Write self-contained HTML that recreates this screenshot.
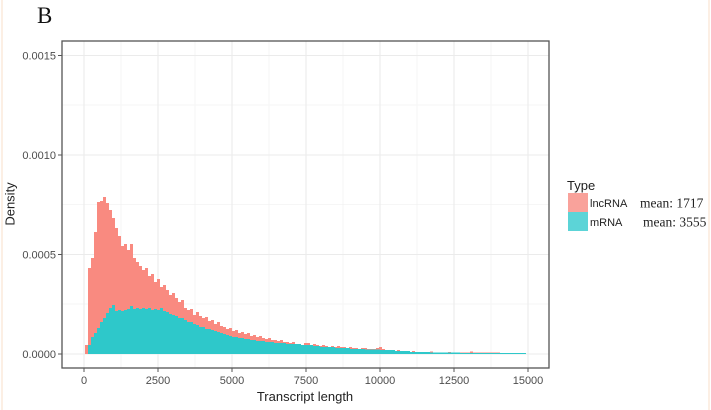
<!DOCTYPE html>
<html><head><meta charset="utf-8"><style>
html,body{margin:0;padding:0;background:#fff;}
svg{display:block;}
</style></head><body>
<svg width="711" height="410" viewBox="0 0 711 410" xmlns="http://www.w3.org/2000/svg">
<rect x="0" y="0" width="711" height="410" fill="#fff"/>
<line x1="2" y1="0" x2="2" y2="410" stroke="#fbe4d3" stroke-width="1.2"/>
<line x1="709" y1="0" x2="709" y2="410" stroke="#fbe4d3" stroke-width="1.2"/>
<text x="37" y="23" font-family="Liberation Serif, serif" font-size="23" fill="#111">B</text>

<!-- minor grid -->
<g stroke="#f3f3f3" stroke-width="0.7">
<line x1="62" y1="304" x2="549" y2="304"/>
<line x1="62" y1="204.5" x2="549" y2="204.5"/>
<line x1="62" y1="105" x2="549" y2="105"/>
<line x1="121" y1="41" x2="121" y2="368"/>
<line x1="195" y1="41" x2="195" y2="368"/>
<line x1="269" y1="41" x2="269" y2="368"/>
<line x1="343" y1="41" x2="343" y2="368"/>
<line x1="417" y1="41" x2="417" y2="368"/>
<line x1="491" y1="41" x2="491" y2="368"/>
</g>
<!-- major grid -->
<g stroke="#ebebeb" stroke-width="1.1">
<line x1="62" y1="354" x2="549" y2="354"/>
<line x1="62" y1="254.5" x2="549" y2="254.5"/>
<line x1="62" y1="155" x2="549" y2="155"/>
<line x1="62" y1="55.5" x2="549" y2="55.5"/>
<line x1="84" y1="41" x2="84" y2="368"/>
<line x1="158" y1="41" x2="158" y2="368"/>
<line x1="232" y1="41" x2="232" y2="368"/>
<line x1="306" y1="41" x2="306" y2="368"/>
<line x1="380" y1="41" x2="380" y2="368"/>
<line x1="454" y1="41" x2="454" y2="368"/>
<line x1="528" y1="41" x2="528" y2="368"/>
</g>

<!-- lncRNA -->
<path fill="#f98a80" d="M85,354 V345 H88 V268 H91 V258 H94 V232 H97 V202 H100 V201 H103 V197 H106 V203 H109 V210 H112 V218 H115 V228 H118 V236 H121 V246 H124 V244 H127 V250 H130 V244 H133 V258 H136 V262 H139 V266 H142 V270 H145 V268 H148 V276 H151 V274 H154 V282 H157 V279 H160 V287 H163 V285 H166 V290 H169 V295 H172 V293 H175 V298 H178 V302 H181 V300 H184 V308 H187 V310 H190 V309 H193 V315 H196 V312 H199 V316 H202 V318 H205 V317 H208 V321 H211 V320 H214 V324 H217 V322 H220 V326 H223 V327 H226 V329 H229 V328 H232 V331 H235 V330 H238 V333 H241 V332 H244 V334 H247 V333 H250 V336 H253 V335 H256 V337 H259 V336 H262 V338 H265 V339 H268 V338 H271 V340 H274 V340 H277 V341 H280 V340 H283 V342 H286 V342 H289 V343 H292 V342 H295 V344 H298 V344 H301 V345 H304 V343 H307 V343 H310 V345 H313 V344 H316 V345 H319 V346 H322 V345 H325 V346 H328 V347 H331 V346 H334 V347 H337 V346 H340 V347 H343 V347 H346 V348 H349 V347 H352 V348 H355 V348 H358 V349 H361 V348 H364 V348 H367 V349 H370 V349 H373 V349 H376 V348 H379 V347 H382 V349 H385 V350 H388 V350 H391 V351 H394 V351 H397 V350 H400 V351 H403 V352 H412 V351 H415 V352 H430 V351.5 H433 V352.5 H448 V352 H451 V352.5 H470 V351.5 H473 V352.5 H500 V353 H526 V354 Z"/>

<!-- mRNA -->
<path fill="#2ec8ca" d="M88,354 V345 H91 V337 H94 V333 H97 V328 H100 V322 H103 V318 H106 V313 H109 V308 H112 V305 H115 V311 H118 V310 H121 V311 H124 V310 H127 V309 H130 V306 H133 V309 H136 V308 H139 V309 H142 V308 H145 V309 H148 V308 H151 V310 H154 V309 H157 V310 H160 V308 H163 V311 H166 V312 H169 V314 H172 V315 H175 V316 H178 V318 H181 V318 H184 V320 H187 V322 H190 V322 H193 V324 H196 V325 H199 V327 H202 V327 H205 V329 H208 V329 H211 V330 H214 V331 H217 V332 H220 V333 H223 V334 H226 V335 H229 V336 H232 V337 H235 V337 H238 V338 H241 V338 H244 V339 H247 V339 H250 V340 H253 V340 H256 V341 H262 V341 H265 V342 H271 V342 H274 V343 H283 V343 H286 V344 H298 V344 H301 V345 H310 V345 H313 V346 H320 V347 H335 V348 H350 V349 H365 V349.5 H380 V350 H395 V351 H410 V352 H430 V352.5 H460 V353 H526 V354 Z"/>

<!-- panel border -->
<rect x="62" y="41" width="487" height="327" fill="none" stroke="#555" stroke-width="1.3"/>

<!-- ticks -->
<g stroke="#555" stroke-width="1">
<line x1="58" y1="354" x2="62" y2="354"/>
<line x1="58" y1="254.5" x2="62" y2="254.5"/>
<line x1="58" y1="155" x2="62" y2="155"/>
<line x1="58" y1="55.5" x2="62" y2="55.5"/>
<line x1="84" y1="368" x2="84" y2="372"/>
<line x1="158" y1="368" x2="158" y2="372"/>
<line x1="232" y1="368" x2="232" y2="372"/>
<line x1="306" y1="368" x2="306" y2="372"/>
<line x1="380" y1="368" x2="380" y2="372"/>
<line x1="454" y1="368" x2="454" y2="372"/>
<line x1="528" y1="368" x2="528" y2="372"/>
</g>
<g font-family="Liberation Sans, sans-serif" font-size="11" fill="#4d4d4d" text-anchor="end">
<text x="56" y="358">0.0000</text>
<text x="56" y="258.5">0.0005</text>
<text x="56" y="159">0.0010</text>
<text x="56" y="59.5">0.0015</text>
</g>
<g font-family="Liberation Sans, sans-serif" font-size="11" fill="#4d4d4d" text-anchor="middle">
<text x="84" y="384">0</text>
<text x="158" y="384">2500</text>
<text x="232" y="384">5000</text>
<text x="306" y="384">7500</text>
<text x="380" y="384">10000</text>
<text x="454" y="384">12500</text>
<text x="528" y="384">15000</text>
</g>
<text x="305" y="401" font-family="Liberation Sans, sans-serif" font-size="13" fill="#222" text-anchor="middle">Transcript length</text>
<text transform="translate(14.5,204) rotate(-90)" font-family="Liberation Sans, sans-serif" font-size="13" fill="#222" text-anchor="middle">Density</text>

<!-- legend -->
<text x="567" y="190" font-family="Liberation Sans, sans-serif" font-size="13" fill="#222">Type</text>
<rect x="568" y="193" width="20" height="19" fill="#f9a29b"/>
<rect x="568" y="212" width="20" height="19" fill="#5cd4d7"/>
<text x="590" y="207" font-family="Liberation Sans, sans-serif" font-size="11" fill="#222">lncRNA</text>
<text x="590" y="226" font-family="Liberation Sans, sans-serif" font-size="11" fill="#222">mRNA</text>
<text x="640" y="207.5" font-family="Liberation Serif, serif" font-size="13.5" fill="#222">mean: 1717</text>
<text x="643" y="226.5" font-family="Liberation Serif, serif" font-size="13.5" fill="#222">mean: 3555</text>
</svg>
</body></html>
